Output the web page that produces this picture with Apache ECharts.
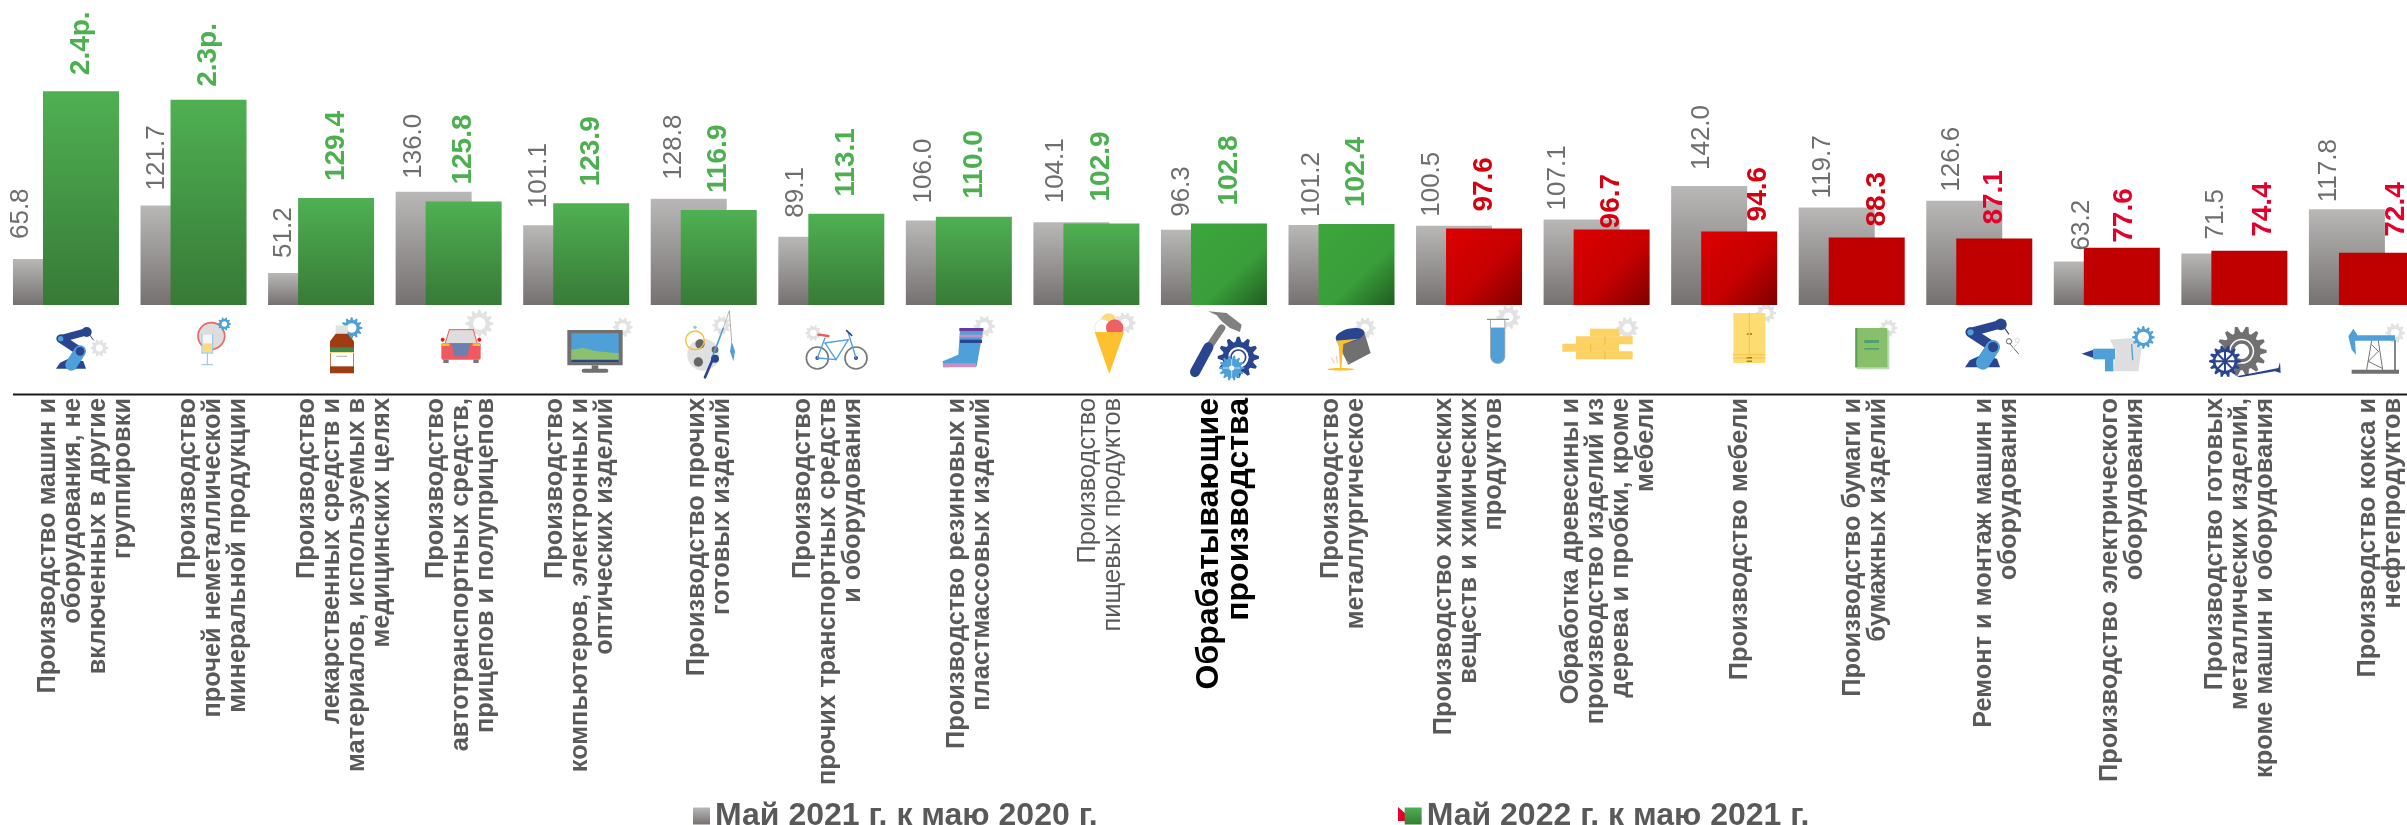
<!DOCTYPE html>
<html>
<head>
<meta charset="utf-8">
<title>Обрабатывающие производства</title>
<script src="https://cdn.jsdelivr.net/npm/echarts@6/dist/echarts.min.js"></script>
<style>
html, body { margin: 0; padding: 0; background: #fff; }
#chart { width: 2407px; height: 825px; }
</style>
</head>
<body>
<div id="chart"></div>
<script>
const categories = [
  'Производство машин и\nоборудования, не\nвключенных в другие\nгруппировки',
  'Производство\nпрочей неметаллической\nминеральной продукции',
  'Производство\nлекарственных средств и\nматериалов, используемых в\nмедицинских целях',
  'Производство\nавтотранспортных средств,\nприцепов и полуприцепов',
  'Производство\nкомпьютеров, электронных и\nоптических изделий',
  'Производство прочих\nготовых изделий',
  'Производство\nпрочих транспортных средств\nи оборудования',
  'Производство резиновых и\nпластмассовых изделий',
  'Производство\nпищевых продуктов',
  'Обрабатывающие\nпроизводства',
  'Производство\nметаллургическое',
  'Производство химических\nвеществ и химических\nпродуктов',
  'Обработка древесины и\nпроизводство изделий из\nдерева и пробки, кроме\nмебели',
  'Производство мебели',
  'Производство бумаги и\nбумажных изделий',
  'Ремонт и монтаж машин и\nоборудования',
  'Производство электрического\nоборудования',
  'Производство готовых\nметаллических изделий,\nкроме машин и оборудования',
  'Производство кокса и\nнефтепродуктов'
]
const seriesNames = ['Май 2021 г. к маю 2020 г.', 'Май 2022 г. к маю 2021 г.']
const values2021 = [65.8, 121.7, 51.2, 136.0, 101.1, 128.8, 89.1, 106.0, 104.1, 96.3, 101.2, 100.5, 107.1, 142.0, 119.7, 126.6, 63.2, 71.5, 117.8]
// первые два столбца подписаны "разы", высота
const values2022 = [241, 232, 129.4, 125.8, 123.9, 116.9, 113.1, 110.0, 102.9, 102.8, 102.4, 97.6, 96.7, 94.6, 88.3, 87.1, 77.6, 74.4, 72.4]

// ручные сдвиги подписей, как на исходной картинке
const gray2021Dx = [-30, -22, -22, -20, -22, -15, -20, -20, -16, -17, -15, -22, -24, -7, -14, -12, -10, -4, -18]
const gray2021Gap = [20, 15, 15, 13, 17, 19, 19, 17, 19, 13, 8, 9, 9, 16, 9, 9, 11, 14, 7]
const value2022Dx = [0, 0, 0, 0, 0, 0, 0, 0, 0, 0, 0, 0, 0, 19, 11, 0, 2, 14, 19]
const value2022Gap = [16, 13, 17, 17, 17, 17, 17, 18, 22, 18, 17, 17, 1, 10, 11, 14, 5, 14, 16]
const categoryShift = [20, 19, 23, 12, 4, 6, -3, 11, 14, 10, 2, 0, 12, 16, 14, 17, 16, 6, 19]
const diagonalBars = [9, 10, 11, 12, 13]
const pinkLabels = [15, 16, 17, 18]

const FONT = '"Liberation Sans", Arial, sans-serif'
const BLUE = '#4f9fd9', NAVY = '#2a4590', GEAR = '#e2e2e2', STEEL = '#707070'

function gradient(x2, y2, stops) {
  return {
    type: 'linear', x: 0, y: 0, x2: x2, y2: y2,
    colorStops: stops.map(s => ({ offset: s[0], color: s[1] }))
  }
}
const grayFill = gradient(0, 1, [[0, '#b9b8b7'], [1, '#767171']])
const greenFill = gradient(0, 1, [[0, '#4fb052'], [1, '#377a37']])
const greenDiag = gradient(1, 1, [[0, '#3ca63c'], [0.6, '#3a9e3a'], [1, '#205c20']])
const redDiag = gradient(1, 1, [[0, '#dd0000'], [0.55, '#c60000'], [1, '#7e0000']])

function barColor(i) {
  if (values2022[i] >= 100) return diagonalBars.includes(i) ? greenDiag : greenFill
  return diagonalBars.includes(i) ? redDiag : '#c00000'
}
function labelColor(i) {
  if (values2022[i] >= 100) return '#4caf50'
  return pinkLabels.includes(i) ? '#e4002b' : '#d50010'
}
function categoryStyle(i) {
  if (i === 8) return { fontWeight: 'normal' }
  if (i === 9) return { color: '#000', fontSize: 32, lineHeight: 30 }
  return {}
}
// у подписей оси нет своего сдвига, поэтому сдвигаем пустой строкой-распоркой
const spacerRich = {}
categoryShift.forEach((d, i) => {
  spacerRich['sp' + i] = { lineHeight: Math.abs(2 * d) || 1, fontSize: 1 }
})
function categoryLabel(name, i) {
  const d = categoryShift[i]
  if (d > 0) return '{sp' + i + '| }\n' + name
  if (d < 0) return name + '\n{sp' + i + '| }'
  return name
}

// мелкие значки под столбцами, координаты в единицах увеличенного кадра (3x)
function rect(x, y, w, h, fill, r) {
  return { type: 'rect', shape: { x: x, y: y, width: w, height: h, r: r || 0 }, style: { fill: fill } }
}
function circle(cx, cy, r, fill, stroke, lw) {
  return { type: 'circle', shape: { cx: cx, cy: cy, r: r }, style: { fill: fill || 'none', stroke: stroke || null, lineWidth: lw || 0 } }
}
function poly(points, fill) {
  return { type: 'polygon', shape: { points: points }, style: { fill: fill } }
}
function line(x1, y1, x2, y2, stroke, lw) {
  return { type: 'line', shape: { x1: x1, y1: y1, x2: x2, y2: y2 }, style: { stroke: stroke, lineWidth: lw || 3, lineCap: 'round' } }
}
function gear(cx, cy, r, fill, teeth, hole) {
  const n = teeth || 10, pts = []
  for (let k = 0; k < n * 4; k++) {
    const a = (k - 0.5) / (n * 4) * Math.PI * 2
    const rr = k % 4 < 2 ? r : r * 0.76
    pts.push([cx + rr * Math.cos(a), cy + rr * Math.sin(a)])
  }
  return [poly(pts, fill), circle(cx, cy, r * (hole || 0.4), '#fff')]
}
function robot(ox, oy, s) {
  const p = (x, y) => [ox + x * s, oy + y * s]
  const l = (a, b, c, d, col, w) => line(p(a, b)[0], p(a, b)[1], p(c, d)[0], p(c, d)[1], col, w * s)
  return [
    poly([p(0, 124), p(90, 124), p(82, 102), p(42, 92), p(12, 106)], NAVY),
    l(14, 34, 92, 13, NAVY, 22),
    circle(p(92, 14)[0], p(92, 14)[1], 15 * s, NAVY),
    l(14, 34, 72, 72, NAVY, 26),
    l(46, 112, 72, 72, BLUE, 36),
    circle(p(72, 72)[0], p(72, 72)[1], 13 * s, NAVY),
    circle(p(14, 34)[0], p(14, 34)[1], 8 * s, BLUE),
    l(102, 24, 112, 38, NAVY, 3)
  ]
}

const iconsA = [].concat(
  gear(208, 120, 26, GEAR), robot(78, 58, 1),
  circle(544, 84, 40, '#ddd', '#ee6666', 5), gear(583, 48, 20, BLUE),
  rect(516, 80, 32, 55, '#f6f6f6'), rect(518, 106, 28, 27, '#fbdc7b'),
  line(516, 80, 516, 135, '#8fc0e8'), line(548, 80, 548, 135, '#8fc0e8'), line(516, 135, 548, 135, '#8fc0e8'),
  line(532, 135, 532, 170, '#8fc0e8'), line(516, 170, 548, 170, '#8fc0e8'),
  gear(965, 60, 32, BLUE, 12, 0.45),
  rect(917, 52, 36, 26, GEAR),
  poly([[900, 100], [917, 77], [953, 77], [972, 100], [972, 196], [900, 196]], '#a03c12'),
  rect(900, 118, 72, 14, '#3e8a4e'), rect(900, 132, 72, 3, '#f2dc8c'), rect(902, 135, 68, 40, '#fff'),
  line(920, 145, 950, 145, '#888', 2),
  gear(1348, 47, 42, GEAR, 12, 0.45),
  poly([[1245, 108], [1258, 65], [1330, 65], [1342, 108]], '#ddd'),
  line(1245, 108, 1258, 65, '#ee5a5f'), line(1258, 65, 1330, 65, '#ee5a5f'), line(1330, 65, 1342, 108, '#ee5a5f'),
  rect(1234, 105, 118, 50, '#ee5a5f', 5), rect(1240, 155, 16, 10, '#777'), rect(1330, 155, 16, 10, '#777'),
  circle(1238, 95, 6, '#e02020'), circle(1348, 95, 6, '#e02020'),
  rect(1236, 106, 22, 8, '#f5c030'), rect(1328, 106, 22, 8, '#f5c030'),
  poly([[1265, 107], [1320, 107], [1312, 145], [1273, 145]], '#6c7fb0')
)
const iconsB = [].concat(
  gear(278, 58, 30, GEAR),
  rect(112, 66, 166, 106, STEEL), rect(124, 76, 142, 86, BLUE),
  poly([[124, 125], [160, 120], [200, 130], [266, 136], [266, 156], [124, 156]], '#8cc06c'),
  rect(124, 155, 142, 7, NAVY), rect(185, 172, 20, 12, STEEL), rect(155, 182, 80, 12, STEEL, 6),
  gear(575, 52, 28, GEAR),
  circle(520, 140, 48, '#e0e0e0'), circle(510, 108, 14, '#666'), circle(505, 162, 14, '#666'), circle(555, 125, 10, '#666'),
  circle(495, 97, 28, null, '#fbbc34', 4), circle(495, 58, 5, '#8fc0e8'),
  line(598, 8, 580, 60, '#999', 2), line(580, 60, 550, 140, BLUE, 5), line(552, 145, 525, 208, NAVY, 8),
  circle(555, 152, 12, NAVY), line(598, 10, 605, 100, '#888', 2),
  poly([[605, 100], [615, 130], [610, 160], [600, 130]], BLUE),
  gear(850, 75, 24, GEAR),
  circle(862, 150, 33, '#fff', '#777', 5), circle(978, 150, 33, '#fff', '#777', 5),
  circle(862, 150, 6, NAVY), circle(978, 150, 6, NAVY),
  line(862, 150, 885, 90, BLUE, 4), line(885, 105, 955, 95, BLUE, 4), line(918, 155, 885, 105, BLUE, 4),
  line(918, 155, 955, 95, BLUE, 4), line(955, 75, 978, 150, BLUE, 4), line(862, 150, 918, 155, BLUE, 4),
  line(865, 80, 895, 84, '#ee5a5f', 7), line(950, 68, 965, 82, NAVY, 5),
  gear(1363, 55, 32, GEAR),
  poly([[1290, 62], [1360, 62], [1340, 175], [1240, 178], [1238, 160], [1285, 140]], BLUE),
  rect(1288, 60, 72, 9, '#6b3a99'), rect(1290, 80, 68, 8, '#c88fc0'), rect(1290, 95, 66, 10, NAVY),
  poly([[1238, 166], [1338, 166], [1338, 178], [1240, 178]], '#c88fc0')
)
const iconsC = [].concat(
  gear(285, 45, 32, GEAR),
  circle(236, 40, 24, '#fbdc7b'), circle(218, 58, 24, '#fff', '#ddd', 2), circle(254, 60, 26, '#ee6062'),
  poly([[194, 72], [282, 72], [238, 198]], '#fdc02f'),
  line(535, 120, 575, 60, '#808080', 22),
  poly([[535, 10], [590, 15], [635, 50], [630, 72], [600, 60], [575, 40], [560, 22]], '#808080'),
  line(495, 192, 535, 118, NAVY, 30),
  gear(625, 148, 62, NAVY, 12, 0.5), circle(625, 148, 22, '#fff', NAVY, 5),
  gear(605, 180, 38, BLUE, 14, 0.2),
  line(580, 180, 630, 180, '#fff', 2), line(605, 155, 605, 205, '#fff', 2),
  gear(1005, 60, 32, GEAR),
  poly([[918, 95], [1002, 70], [1022, 135], [955, 170]], STEEL),
  { type: 'ellipse', rotation: 0.25, originX: 960, originY: 82, shape: { cx: 960, cy: 82, rx: 44, ry: 20 }, style: { fill: NAVY } },
  poly([[918, 98], [985, 92], [940, 108], [934, 182], [930, 182], [926, 110]], '#fdc02f'),
  { type: 'ellipse', shape: { cx: 932, cy: 184, rx: 40, ry: 4 }, style: { fill: '#fdc02f' } },
  line(905, 150, 912, 165, '#ef9a9a', 2), line(920, 145, 922, 165, '#ef9a9a', 2), line(950, 160, 960, 165, '#ef9a9a', 2),
  gear(1435, 28, 36, GEAR),
  rect(1380, 35, 46, 133, '#aaa', [0, 0, 23, 23]), rect(1383, 35, 40, 24, '#fff'), rect(1383, 59, 40, 106, BLUE, [0, 0, 20, 20]),
  line(1372, 34, 1436, 34, '#777', 3)
)
const iconsD = [].concat(
  gear(292, 60, 33, GEAR),
  rect(180, 62, 88, 24, '#fdd264'), rect(138, 85, 170, 24, '#fdd264'), rect(97, 107, 170, 24, '#fdd264'), rect(138, 130, 170, 24, '#fdd264'),
  line(225, 85, 225, 108, '#e8b040', 2), line(182, 108, 182, 131, '#e8b040', 2), line(225, 131, 225, 154, '#e8b040', 2),
  gear(708, 15, 30, GEAR),
  rect(610, 15, 96, 150, '#fddc72'), line(658, 15, 658, 140, '#eeb840', 2),
  line(610, 140, 706, 140, '#eeb840', 2), line(610, 150, 706, 150, '#eeb840', 2),
  rect(650, 76, 6, 4, '#b06010'), rect(660, 76, 6, 4, '#b06010'), rect(650, 148, 16, 3, '#a04010'), rect(650, 158, 16, 3, '#a04010'),
  gear(1075, 60, 27, GEAR),
  rect(980, 66, 98, 118, '#b9d8b4'), rect(976, 60, 96, 118, '#88bf6b'), rect(976, 60, 6, 118, '#5fa050'),
  rect(1003, 96, 44, 9, '#4fa06b'), rect(1003, 120, 44, 5, '#4fa06b'),
  robot(1305, 33, 1.17),
  circle(1437, 100, 8, null, '#666', 3), line(1440, 108, 1465, 137, '#666', 3),
  circle(1462, 97, 6, null, '#ddd', 3), line(1468, 100, 1440, 132, '#ddd', 3)
)
const iconsE = [].concat(
  poly([[480, 95], [545, 90], [575, 120], [565, 190], [490, 190], [497, 130]], '#dedede'),
  rect(430, 122, 65, 32, BLUE), poly([[395, 137], [430, 125], [430, 150]], NAVY), rect(465, 150, 25, 40, BLUE),
  gear(580, 88, 34, BLUE, 12, 0.5), line(545, 110, 548, 155, BLUE, 4),
  gear(875, 130, 75, STEEL, 14, 0.5), circle(875, 130, 28, null, STEEL, 10),
  poly([[860, 205], [985, 180], [990, 162], [992, 195], [975, 190], [870, 208]], NAVY),
  gear(825, 160, 48, NAVY, 14, 0.6),
  line(825, 125, 825, 195, NAVY, 6), line(790, 160, 860, 160, NAVY, 6), line(800, 135, 850, 185, NAVY, 6), line(850, 135, 800, 185, NAVY, 6),
  gear(1335, 75, 30, GEAR),
  line(1265, 98, 1250, 185, '#777'), line(1285, 98, 1298, 185, '#777'), line(1265, 110, 1285, 130, '#777'),
  line(1285, 130, 1255, 160, '#777'), line(1255, 160, 1295, 180, '#777'), line(1335, 98, 1335, 185, STEEL, 5),
  rect(1210, 82, 125, 16, BLUE),
  poly([[1210, 62], [1195, 85], [1205, 125], [1218, 140], [1215, 100], [1222, 80]], BLUE),
  rect(1205, 185, 142, 12, STEEL)
)
function iconGroup(x, children) {
  return { type: 'group', x: x, y: 308, scaleX: 1 / 3, scaleY: 1 / 3, silent: true, children: children }
}

let ch = echarts.init(document.getElementById('chart'), null, { renderer: 'canvas' })
let option = {
  animation: false,
  backgroundColor: '#fff',
  textStyle: { fontFamily: FONT },
  legend: {
    left: 688,
    top: 795,
    itemWidth: 17,
    itemHeight: 17,
    itemGap: 307,
    icon: 'rect',
    selectedMode: false,
    data: seriesNames,
    textStyle: {
      color: '#595959',
      fontSize: 32,
      fontWeight: 'bold',
      fontFamily: FONT
    }
  },
  grid: { left: 2.2, top: 0, width: 2423.5, height: 305, outerBoundsMode: 'none' },
  xAxis: {
    type: 'category',
    data: categories.map((name, i) => ({ value: name, textStyle: categoryStyle(i) })),
    offset: 90,
    axisLine: { show: false },
    axisTick: { show: false },
    axisLabel: {
      interval: 0,
      rotate: 90,
      margin: 3,
      color: '#595959',
      fontSize: 25.4,
      lineHeight: 25,
      fontWeight: 'bold',
      fontFamily: FONT,
      hideOverlap: false,
      formatter: categoryLabel,
      rich: spacerRich
    }
  },
  yAxis: { type: 'value', min: 17.8, max: 336.2, show: false, splitLine: { show: false } },
  series: [
    {
      name: seriesNames[0],
      type: 'bar',
      barWidth: 76,
      barGap: '-60.5%',
      itemStyle: { color: grayFill },
      label: {
        show: true,
        position: 'top',
        distance: 0,
        rotate: 90,
        align: 'left',
        verticalAlign: 'middle',
        color: '#6e6e6e',
        fontSize: 26,
        fontFamily: FONT
      },
      // offset поворачивается вместе с подписью: [вверх, вправо]
      data: values2021.map((v, i) => ({
        value: v,
        label: { offset: [gray2021Gap[i], gray2021Dx[i]], formatter: v.toFixed(1) }
      }))
    },
    {
      name: seriesNames[1],
      type: 'bar',
      barWidth: 76,
      itemStyle: { color: greenFill },
      label: {
        show: true,
        position: 'top',
        distance: 0,
        rotate: 90,
        align: 'left',
        verticalAlign: 'middle',
        fontSize: 28,
        fontWeight: 'bold',
        fontFamily: FONT
      },
      data: values2022.map((v, i) => ({
        value: v,
        itemStyle: { color: barColor(i) },
        label: {
          offset: [value2022Gap[i], value2022Dx[i]],
          color: labelColor(i),
          formatter: v >= 200 ? (v / 100).toFixed(1) + 'р.' : v.toFixed(1)
        }
      }))
    }
  ],
  graphic: [
    { type: 'line', shape: { x1: 13, y1: 394.5, x2: 2407, y2: 394.5 }, style: { stroke: '#1a1a1a', lineWidth: 2 }, silent: true },
    // зелено-красный значок легенды
    { type: 'polygon', shape: { points: [[1404, 806], [1404, 821], [1419, 821]] }, style: { fill: '#fff' }, silent: true },
    { type: 'polygon', shape: { points: [[1398, 807], [1398, 821], [1414, 821]] }, style: { fill: '#e4002b' }, silent: true },
    iconGroup(30, iconsA),
    iconGroup(530, iconsB),
    iconGroup(1030, iconsC),
    iconGroup(1530, iconsD),
    iconGroup(1950, iconsE)
  ]
}
ch.setOption(option)

// черные уголки у столбцов с диагональной заливкой, как на исходнике
// зеленый столбец сдвинут от центра категории на 15px
const corners = []
diagonalBars.forEach(i => {
  const pt = ch.convertToPixel({ seriesIndex: 1 }, [i, values2022[i]])
  const left = Math.round(pt[0] + 15 - 38)
  const top = Math.round(pt[1])
  corners.push({ type: 'rect', shape: { x: left, y: top, width: 5, height: 2 }, style: { fill: '#000' }, silent: true })
  if (i >= 11) corners.push({ type: 'rect', shape: { x: left, y: top, width: 2, height: 5 }, style: { fill: '#000' }, silent: true })
})
ch.setOption({ graphic: option.graphic.concat(corners) })
</script>
</body>
</html>
